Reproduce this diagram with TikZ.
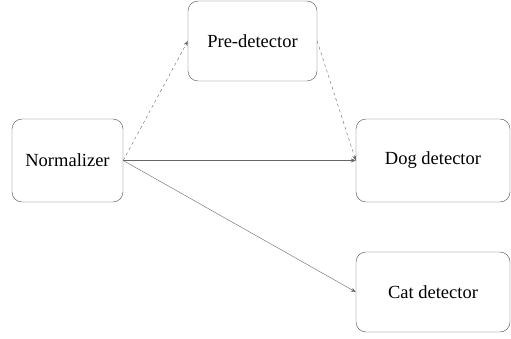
\documentclass[tikz,border=0pt]{standalone}
\usepackage{fontspec}
\setmainfont{Liberation Serif}
\usetikzlibrary{arrows.meta}

\begin{document}
\begin{tikzpicture}[x=1pt,y=-1pt,
  box/.style={draw=black!70,rounded corners=10pt,inner sep=0pt,
    font=\fontsize{18.5}{22}\selectfont},
  link/.style={draw=black!60,-{Stealth[length=5pt,width=4pt]}}]
\useasboundingbox (0,0) rectangle (511,339);
\node[box,minimum width=111pt,minimum height=83pt] (norm) at (67.5,160.5) {Normalizer};
\node[box,minimum width=129pt,minimum height=80pt] (pre) at (252.5,41) {Pre-detector};
\node[box,minimum width=154pt,minimum height=83pt] (dog) at (433,160.5) {Dog detector};
\node[box,minimum width=154pt,minimum height=80pt] (cat) at (433,292) {Cat detector};
\draw[link] (norm.east) -- (dog.west);
\draw[link] (norm.east) -- (cat.west);
\draw[link,dashed] (norm.east) -- (pre.west);
\draw[link,dashed] (pre.east) -- (dog.west);
\end{tikzpicture}
\end{document}
